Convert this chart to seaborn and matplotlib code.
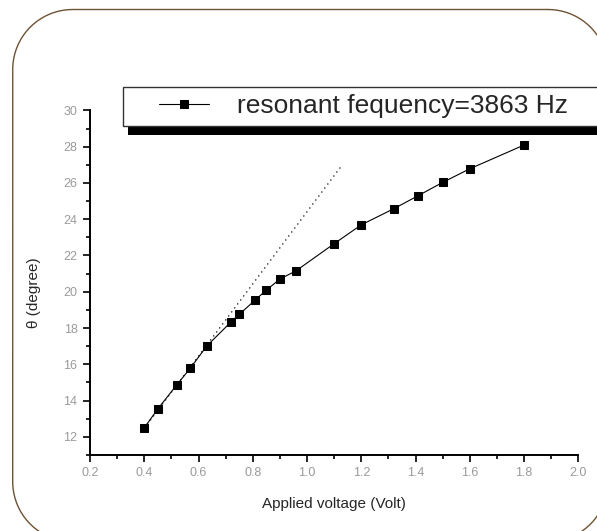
import matplotlib
matplotlib.use("Agg")
import numpy as np
import matplotlib.pyplot as plt
from matplotlib.patches import Rectangle
from matplotlib.lines import Line2D
from matplotlib.ticker import MultipleLocator, FormatStrFormatter
import seaborn as sns
import pandas as pd

# data
voltage = [0.40, 0.45, 0.52, 0.57, 0.63, 0.72, 0.75, 0.81, 0.85, 0.90, 0.96,
           1.10, 1.20, 1.32, 1.41, 1.50, 1.60, 1.80]
theta = [12.5, 13.54, 14.87, 15.79, 17.0, 18.34, 18.75, 19.56, 20.09, 20.70, 21.16,
         22.65, 23.69, 24.58, 25.3, 26.03, 26.78, 28.09]
fit_x = [0.40, 1.125]
fit_y = [12.47, 26.9]
series_label = "resonant fequency=3863 Hz"

df = pd.DataFrame({"voltage": voltage, "theta": theta})

sns.set_style("ticks")
plt.rcParams["font.family"] = ["Liberation Sans", "DejaVu Sans"]

W, H = 597, 531
fig = plt.figure(figsize=(W / 100, H / 100), dpi=100)
fig.patch.set_facecolor("white")


def rounded_outline(x0, y0, x1, y1, r, n=40):
    # outline of a rounded rectangle in pixel units (y downwards)
    pts = []
    corners = [(x1 - r, y0 + r, -90, 0), (x1 - r, y1 - r, 0, 90),
               (x0 + r, y1 - r, 90, 180), (x0 + r, y0 + r, 180, 270)]
    for cx, cy, a0, a1 in corners:
        a = np.radians(np.linspace(a0, a1, n))
        pts.append(np.column_stack([cx + r * np.cos(a), cy + r * np.sin(a)]))
    pts = np.vstack(pts + [pts[0][:1]])
    return pts[:, 0] / W, 1 - pts[:, 1] / H


# rounded frame around the whole graph page
fx, fy = rounded_outline(12.7, 9.5, 608, 541.7, 60)
fig.lines.append(Line2D(fx, fy, transform=fig.transFigure, color="#6e5234",
                        linewidth=1.0, zorder=0))

ax = fig.add_axes([90 / W, 76 / H, 488.3 / W, 344.6 / H])
ax.set_facecolor("none")

sns.lineplot(data=df, x="voltage", y="theta", ax=ax, color="black",
             marker="s", markersize=5.5, markeredgecolor="black",
             linewidth=0.8, label=series_label)
ax.plot(fit_x, fit_y, color="black", linestyle=(0, (1, 3)), linewidth=0.9)

ax.set_xlim(0.2, 2.0)
ax.xaxis.set_major_locator(MultipleLocator(0.2))
ax.xaxis.set_minor_locator(MultipleLocator(0.1))
ax.xaxis.set_major_formatter(FormatStrFormatter("%.1f"))
ax.yaxis.set_minor_locator(MultipleLocator(1))
ax.set_yticks(range(12, 31, 2))
ax.set_ylim(11, 30)

sns.despine(ax=ax)
for s in ["left", "bottom"]:
    ax.spines[s].set_linewidth(1.4)
    ax.spines[s].set_color("black")
ax.tick_params(which="major", length=5, width=1.2, color="black",
               labelsize=9, labelcolor="#9a9a9a", pad=4)
ax.tick_params(which="minor", length=3, width=1.2, color="black")

ax.set_xlabel("Applied voltage (Volt)", fontsize=11)
ax.set_ylabel("θ (degree)", fontsize=11)
ax.xaxis.set_label_coords(0.5, -0.122)
ax.yaxis.set_label_coords(-0.1, 0.4716)

# legend box with heavy shadow, running off the right edge
fig.patches.append(Rectangle((128 / W, 1 - 134.6 / H), 520 / W, 39.8 / H,
                             transform=fig.transFigure, facecolor="black",
                             edgecolor="none", zorder=5))
fig.patches.append(Rectangle((123 / W, 1 - 126 / H), 520 / W, 39.2 / H,
                             transform=fig.transFigure, facecolor="white",
                             edgecolor="#333333", linewidth=1.0, zorder=6))
leg = ax.legend(loc="center left", bbox_to_anchor=(159 / W, 1 - 106.5 / H),
                bbox_transform=fig.transFigure, frameon=False, fontsize=19,
                borderpad=0, borderaxespad=0, handlelength=1.9,
                handletextpad=1.05)
leg.set_zorder(7)
fig.legends.append(ax.legend_)
ax.legend_ = None

fig.savefig("out.png", dpi=100)
